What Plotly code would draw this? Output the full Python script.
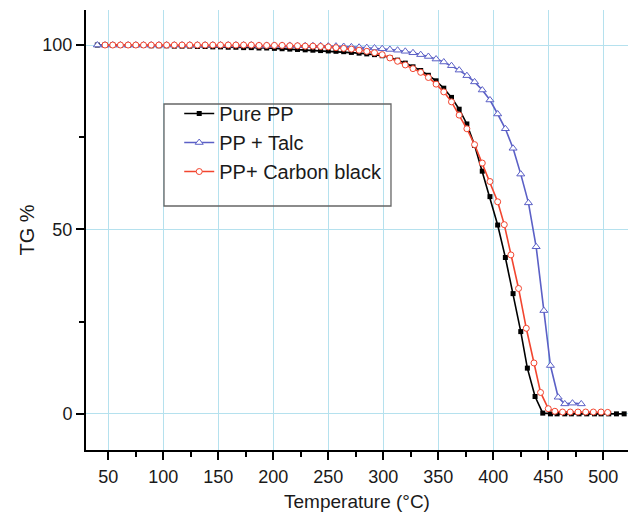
import plotly.graph_objects as go

# ---------------- data ----------------
temp_pure = [40, 47, 54, 61, 68, 75, 82, 89, 96, 103, 110, 117, 124, 131, 138, 145, 152, 159, 166, 173,
             180, 187, 194, 201, 208, 215, 222, 229, 236, 243, 250, 257, 264, 271, 278, 285, 292, 299, 306, 313,
             320, 327, 334, 341, 348, 355, 362, 369, 376, 383, 390, 397, 404, 411, 418, 425, 431, 438, 445,
             452, 458, 465, 471, 478, 485, 492, 498, 505, 512, 519]
tg_pure = [100.0, 100.0, 100.0, 99.9, 99.9, 99.9, 99.9, 99.8, 99.8, 99.8, 99.7, 99.7, 99.7, 99.6, 99.6, 99.5, 99.5, 99.4, 99.4, 99.3,
           99.3, 99.2, 99.2, 99.1, 99.0, 98.9, 98.8, 98.7, 98.6, 98.5, 98.4, 98.3, 98.2, 98.0, 97.8, 97.6, 97.4, 97.1, 96.6, 95.9,
           95.1, 94.1, 93.1, 91.8, 90.3, 88.3, 85.8, 82.6, 78.6, 72.8, 65.8, 58.9, 51.2, 42.4, 32.6, 22.3, 12.4, 4.7, 0.2,
           0.0, 0.0, 0.0, 0.0, 0.0, 0.0, 0.0, 0.0, 0.0, 0.0, 0.0]

temp_talc = [40, 47, 54, 61, 68, 75, 82, 89, 96, 103, 110, 117, 124, 131, 138, 145, 152, 159, 166, 173,
             180, 187, 194, 201, 208, 215, 222, 229, 236, 243, 250, 257, 264, 271, 278, 285, 292, 299, 306, 313,
             320, 327, 334, 341, 348, 355, 362, 369, 376, 383, 390, 397, 404, 411, 418, 425,
             432, 439, 446, 452, 459, 465, 472, 480]
tg_talc = [100.0, 100.0, 100.0, 100.0, 100.0, 100.0, 100.0, 100.0, 100.0, 100.0, 100.0, 100.0, 100.0, 100.0, 100.0, 100.0, 100.0, 100.0, 100.0, 100.0,
           100.0, 99.9, 99.9, 99.9, 99.9, 99.9, 99.8, 99.8, 99.8, 99.8, 99.7, 99.7, 99.6, 99.5, 99.4, 99.3, 99.2, 99.0, 98.8, 98.6,
           98.3, 97.9, 97.4, 96.9, 96.2, 95.4, 94.4, 93.2, 91.7, 90.0, 87.8, 85.1, 81.3, 77.3, 72.0, 65.0,
           57.2, 45.3, 28.0, 13.1, 4.5, 2.7, 2.9, 2.7]

temp_cb = [47, 54, 61, 68, 75, 82, 89, 96, 103, 110, 117, 124, 131, 138, 145, 152, 159, 166, 173,
           180, 187, 194, 201, 208, 215, 222, 229, 236, 243, 250, 257, 264, 271, 278, 285, 292, 299, 306, 313,
           320, 327, 334, 341, 348, 355, 362, 369, 376, 383, 390, 397,
           404, 410, 416, 423, 430, 437, 443, 450, 456, 463, 470, 477, 484, 491, 498, 504]
tg_cb = [100.0, 100.0, 100.0, 100.0, 100.0, 100.0, 100.0, 100.0, 100.0, 100.0, 100.0, 100.0, 100.0, 100.0, 100.0, 100.0, 100.0, 100.0, 100.0,
         100.0, 99.9, 99.9, 99.9, 99.9, 99.8, 99.8, 99.7, 99.7, 99.6, 99.5, 99.3, 99.1, 98.9, 98.6, 98.3, 97.9, 97.4, 96.5, 95.6,
         94.6, 93.6, 92.6, 91.2, 89.4, 87.3, 84.6, 81.0, 77.3, 73.0, 68.0, 63.0,
         57.5, 51.3, 43.1, 34.0, 23.2, 13.8, 5.8, 1.4, 0.7, 0.5, 0.5, 0.5, 0.5, 0.5, 0.5, 0.4]

x_ticks = [50, 100, 150, 200, 250, 300, 350, 400, 450, 500]
y_ticks = [0, 50, 100]

# ---------------- styles ----------------
FONT = "Liberation Sans, Arial, Helvetica, sans-serif"
TXT = "#1a1a1a"
GRID = "#b5e1ee"
BLACK = "#000000"
BLUE = "#5b60c6"
RED = "#f2452f"

fig = go.Figure()
fig.add_trace(go.Scatter(
    x=temp_pure, y=tg_pure, name="Pure PP", mode="lines+markers",
    line=dict(color=BLACK, width=1.6),
    marker=dict(symbol="square", size=5, color=BLACK, line=dict(width=0))))
fig.add_trace(go.Scatter(
    x=temp_talc, y=tg_talc, name="PP + Talc", mode="lines+markers",
    line=dict(color=BLUE, width=1.6),
    marker=dict(symbol="triangle-up", size=7, color="white", line=dict(color=BLUE, width=1))))
fig.add_trace(go.Scatter(
    x=temp_cb, y=tg_cb, name="PP+ Carbon black", mode="lines+markers",
    line=dict(color=RED, width=1.6),
    marker=dict(symbol="circle", size=6, color="white", line=dict(color=RED, width=1))))

# legend frame (plot-area fractions)
fig.add_shape(type="rect", xref="paper", yref="paper",
              x0=0.1439, x1=0.5627, y0=0.5545, y1=0.7864,
              line=dict(color="#666666", width=1.3), fillcolor="rgba(255,255,255,0)", layer="above")

fig.update_layout(
    width=628, height=518,
    margin=dict(l=86, r=0, t=10, b=68),
    paper_bgcolor="white", plot_bgcolor="white",
    font=dict(family=FONT, color=TXT, size=18),
    showlegend=True,
    legend=dict(x=0.172, y=0.809, xanchor="left", yanchor="top",
                bgcolor="rgba(0,0,0,0)", borderwidth=0,
                font=dict(family=FONT, size=20, color=TXT),
                traceorder="normal"),
    xaxis=dict(
        range=[29.7, 522.5], tickmode="array", tickvals=x_ticks,
        ticks="outside", ticklen=8, tickwidth=2, tickcolor=BLACK,
        showline=True, linecolor=BLACK, linewidth=2,
        showgrid=True, gridcolor=GRID, gridwidth=1, zeroline=False,
        tickfont=dict(size=18, color=TXT), ticklabelstandoff=1,
        minor=dict(dtick=25, tick0=0, ticks="outside", ticklen=5, tickwidth=2, tickcolor=BLACK, showgrid=False),
        title=dict(text="Temperature (°C)", font=dict(size=19, color=TXT), standoff=9),
    ),
    yaxis=dict(
        range=[-9.8, 109.5], tickmode="array", tickvals=y_ticks,
        ticks="outside", ticklen=8, tickwidth=2, tickcolor=BLACK,
        showline=True, linecolor=BLACK, linewidth=2,
        showgrid=True, gridcolor=GRID, gridwidth=1, zeroline=False,
        tickfont=dict(size=18, color=TXT),
        minor=dict(dtick=25, tick0=0, ticks="outside", ticklen=5, tickwidth=2, tickcolor=BLACK, showgrid=False),
        title=dict(text="TG %", font=dict(size=20, color=TXT), standoff=2),
    ),
)

fig.write_html("out.html")
